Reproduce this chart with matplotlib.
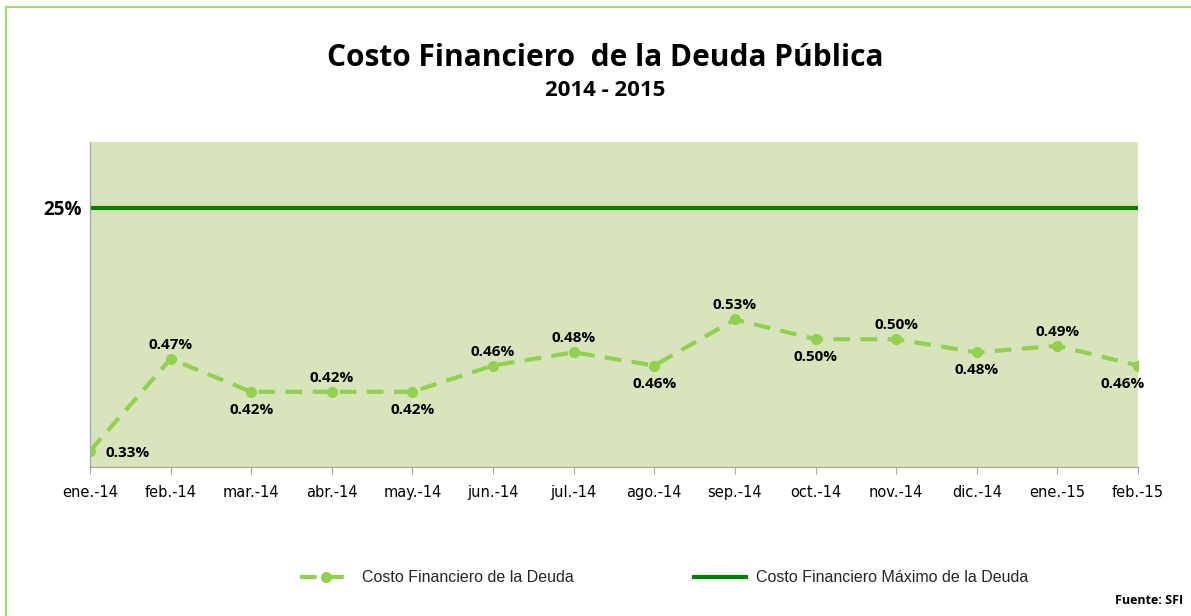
import matplotlib.pyplot as plt
from matplotlib.patches import Rectangle

# datos
meses = ['ene.-14', 'feb.-14', 'mar.-14', 'abr.-14', 'may.-14', 'jun.-14', 'jul.-14',
         'ago.-14', 'sep.-14', 'oct.-14', 'nov.-14', 'dic.-14', 'ene.-15', 'feb.-15']
costo = [0.33, 0.47, 0.42, 0.42, 0.42, 0.46, 0.48, 0.46, 0.53, 0.50, 0.50, 0.48, 0.49, 0.46]
maximo = [25] * 14

# posicion de etiquetas (arriba / abajo)
pos_etiq = ['der', 'arr', 'abj', 'arr', 'abj', 'arr', 'arr', 'abj', 'arr', 'abj', 'arr', 'abj', 'arr', 'izq']

fig = plt.figure(figsize=(11.91, 6.16), dpi=100)
ax = fig.add_axes([90/1191, 149/616, (1138-90)/1191, (467-142)/616])
ax.set_facecolor('#D8E4BC')

x = list(range(len(meses)))
ax.plot(x, costo, color='#92D050', lw=3, dashes=(4, 2.5), marker='o', ms=7,
        label='Costo Financiero de la Deuda')
ax.set_xlim(0, 13)
ax.set_ylim(0.3056, 0.80)
ax.set_yticks([])

for xi, v, p in zip(x, costo, pos_etiq):
    if p == 'arr':
        off = (0, 14)
    elif p == 'abj':
        off = (0, -18)
    elif p == 'der':
        off = (38, -2)
    else:
        off = (-15, -18)
    ax.annotate(f'{v:.2f}%', (xi, v), xytext=off, textcoords='offset pixels',
                ha='center', va='center', fontsize=11, fontweight='bold', family='Open Sans')

ax2 = ax.twinx()
ax2.plot(x, maximo, color='#008000', lw=3, label='Costo Financiero Máximo de la Deuda')
ax2.set_ylim(0, 25 / 0.797)
ax2.yaxis.tick_left()
ax2.set_yticks([25])
ax2.set_yticklabels(['25%'], fontsize=13.5, fontweight='bold', family='Open Sans')
ax2.tick_params(axis='y', length=0, pad=6)

for a in (ax, ax2):
    a.spines['top'].set_visible(False)
    a.spines['right'].set_visible(False)
    a.spines['left'].set_color('#A6A6A6')
    a.spines['bottom'].set_color('#A6A6A6')

ax.set_xticks(x)
ax.set_xticklabels(meses, fontsize=10.5, family='DejaVu Sans')
ax.tick_params(axis='x', length=5, color='#A6A6A6', pad=8)

fig.text(605/1191, 1 - 58/616, 'Costo Financiero  de la Deuda Pública', ha='center', va='center',
         fontsize=21.5, fontweight='bold', family='Open Sans')
fig.text(605/1191, 1 - 90/616, '2014 - 2015', ha='center', va='center',
         fontsize=16, fontweight='bold', family='Open Sans')
fig.text(1183/1191, 1 - 601/616, 'Fuente: SFI', ha='right', va='center',
         fontsize=9, fontweight='bold', family='Open Sans')

h1, l1 = ax.get_legend_handles_labels()
h2, l2 = ax2.get_legend_handles_labels()
leg = fig.legend(h1 + h2, l1 + l2, loc='center', bbox_to_anchor=(664/1191, 1 - 578/616), ncol=2,
                 frameon=False, handlelength=3.3, columnspacing=7.5, handletextpad=0.6,
                 prop={'family': 'Liberation Sans', 'size': 11.5})
for t in leg.get_texts():
    t.set_color('#262626')

# marco verde
fig.patches.append(Rectangle((6/1191, -0.1), 1.2, 1 - 7/616 + 0.1, transform=fig.transFigure,
                             fill=False, edgecolor='#A6DA6E', lw=1.5))

fig.savefig('out.png', dpi=100)
